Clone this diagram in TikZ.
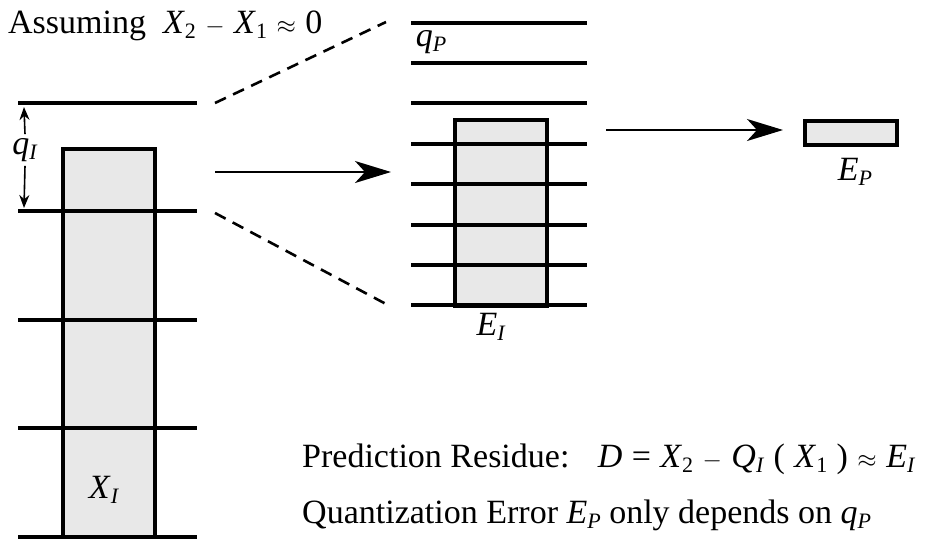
\documentclass[tikz,border=0pt]{standalone}
\usepackage{fontspec}
\setmainfont{Liberation Serif}
\usepackage{tikz}
\usetikzlibrary{positioning,arrows.meta,calc}
\definecolor{cellgray}{RGB}{232,232,232}
% italic letter with a small subscript
\newcommand{\sym}[2]{\textit{#1}\raisebox{-0.35ex}{\fontsize{22}{24}\selectfont #2}}

\begin{document}
\begin{tikzpicture}[x=1pt, y=-1pt,
  every node/.style={font=\fontsize{34}{40}\selectfont, inner sep=0pt},
  level/.style={line width=3.6pt},
  cell/.style={draw, line width=3.6pt, fill=cellgray, inner sep=0pt, anchor=north west},
  zoomline/.style={line width=2.6pt, dash pattern=on 12pt off 8pt},
  bigarrow/.style={line width=1.8pt, -{Stealth[length=36pt, width=22pt, inset=10pt]}},
  steparrow/.style={line width=1.6pt, -{Stealth[length=13pt, width=10pt]}}
]
  \useasboundingbox (0,0) rectangle (927,539);

  % left quantizer: levels and input cell
  \node[cell, minimum width=92pt, minimum height=388pt] (xone) at (61,147) {};
  \foreach \y in {103,211,320,428,537}
    \draw[level] (18,\y) -- (197,\y);
  \node (xlab) at (104,490) {\sym{X}{\textit{I}}};

  % step size q_I
  \node (qi) at (25,150) {\sym{q}{\textit{I}}};
  \draw[steparrow] (qi.north) ++(0,-4) -- (24,107);
  \draw[steparrow] (qi.south) ++(0,4) -- (24,208);

  % zoomed levels of the second quantizer
  \node[cell, minimum width=92pt, minimum height=186pt] (eone) at (453,118) {};
  \foreach \y in {23,63,103,144,184,225,265,305}
    \draw[level] (411,\y) -- (587,\y);
  \node (elab) at (491,327) {\sym{E}{\textit{I}}};
  \node (qp) at (431,42) {\sym{q}{\textit{P}}};

  % zoom guides
  \coordinate (zta) at (215,103);
  \coordinate (ztb) at (386,22);
  \coordinate (zba) at (215,213);
  \coordinate (zbb) at (386,304);
  \draw[zoomline] (zta) -- (ztb);
  \draw[zoomline] (zba) -- (zbb);

  % output cell
  \node[cell, minimum width=92pt, minimum height=24pt] (ep) at (803,119) {};
  \node (eplab) at (855,172) {\sym{E}{\textit{P}}};

  % arrows
  \coordinate (aone) at (215,172);
  \coordinate (bone) at (391,172);
  \coordinate (atwo) at (606,130);
  \coordinate (btwo) at (783,130);
  \draw[bigarrow] (aone) -- (bone);
  \draw[bigarrow] (atwo) -- (btwo);

  % captions
  \node[anchor=base west] (assume) at (8,33) {Assuming \ \sym{X}{2}\;$-$\;\sym{X}{1}\;$\approx$\;0};
  \node[anchor=base west] (resid) at (302,467) {Prediction Residue: \ \ \sym{D}{}\;=\;\sym{X}{2}\;$-$\;\sym{Q}{\textit{I}}\;(\;\sym{X}{1}\;)\;$\approx$\;\sym{E}{\textit{I}}};
  \node[anchor=base west] (qerr) at (302,523) {Quantization Error \sym{E}{\textit{P}} only depends on \sym{q}{\textit{P}}};
\end{tikzpicture}
\end{document}
